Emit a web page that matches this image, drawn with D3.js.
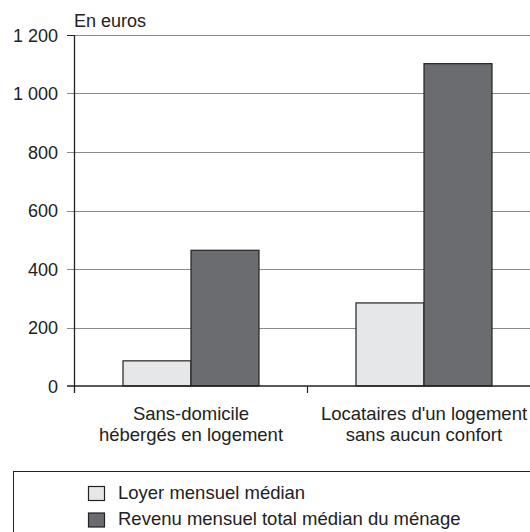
<!DOCTYPE html>
<html>
<head>
<meta charset="utf-8">
<script src="https://cdn.jsdelivr.net/npm/d3@7"></script>
<style>
  body { margin: 0; background: #fff; }
  svg { display: block; font-family: "Liberation Sans", Arial, sans-serif; }
</style>
</head>
<body>
<svg id="chart" width="530" height="532"></svg>
<script>
const categories = [
  ["Sans-domicile", "hébergés en logement"],
  ["Locataires d'un logement", "sans aucun confort"]
];
const seriesNames = ["Loyer mensuel médian", "Revenu mensuel total médian du ménage"];
const loyer = [86, 284];
const revenu = [464, 1102];
const yTicks = [0, 200, 400, 600, 800, 1000, 1200];
const colors = ["#e6e7e8", "#6b6c6f"];

const svg = d3.select("#chart");
const mLeft = 74.5, mRight = 540.5, mTop = 35, mBottom = 386;
const fs = 18, fsL = 18.5;

const x0 = d3.scaleBand().domain(d3.range(categories.length)).range([mLeft, mRight]);
const x1 = d3.scaleBand().domain([0, 1]).range([0, 136]);
const y = d3.scaleLinear().domain([0, 1200]).range([mBottom, mTop]);

const fmt = v => d3.format(",")(v).replace(",", " ");

// gridlines
svg.append("g")
  .selectAll("line")
  .data(yTicks.filter(d => d > 0))
  .join("line")
  .attr("x1", 67).attr("x2", 530)
  .attr("y1", d => Math.round(y(d)) + 0.5).attr("y2", d => Math.round(y(d)) + 0.5)
  .attr("stroke", "#8a8a8a").attr("stroke-width", 1);

// tick labels
svg.append("g")
  .selectAll("text")
  .data(yTicks)
  .join("text")
  .attr("x", 58).attr("y", d => y(d) + 6.5)
  .attr("text-anchor", "end")
  .attr("font-size", fs).attr("fill", "#222")
  .text(fmt);

// bars
const series = [loyer, revenu];
const g = svg.append("g");
categories.forEach((c, i) => {
  const gx = x0(i) + (x0.bandwidth() - 136) / 2;
  series.forEach((s, j) => {
    g.append("rect")
      .attr("x", gx + x1(j))
      .attr("y", y(s[i]))
      .attr("width", x1.bandwidth())
      .attr("height", y(0) - y(s[i]))
      .attr("fill", colors[j])
      .attr("stroke", "#222").attr("stroke-width", 1.2);
  });
});

// axes
svg.append("line")
  .attr("x1", mLeft).attr("x2", mLeft).attr("y1", mTop).attr("y2", mBottom + 7)
  .attr("stroke", "#222").attr("stroke-width", 1.3);
svg.append("line")
  .attr("x1", 67).attr("x2", 530).attr("y1", mBottom).attr("y2", mBottom)
  .attr("stroke", "#222").attr("stroke-width", 1.5);
svg.append("line")
  .attr("x1", x0(1)).attr("x2", x0(1)).attr("y1", mBottom).attr("y2", mBottom + 7)
  .attr("stroke", "#222").attr("stroke-width", 1.2);
svg.append("line")
  .attr("x1", 67).attr("x2", mLeft).attr("y1", mTop + 0.5).attr("y2", mTop + 0.5)
  .attr("stroke", "#222");

svg.append("text")
  .attr("x", 74).attr("y", 27)
  .attr("font-size", fs).attr("fill", "#222")
  .text("En euros");

// category labels
categories.forEach((c, i) => {
  const t = svg.append("text")
    .attr("text-anchor", "middle")
    .attr("font-size", fsL).attr("fill", "#222");
  c.forEach((line, k) => {
    t.append("tspan")
      .attr("x", x0(i) + x0.bandwidth() / 2)
      .attr("y", 420 + k * 21)
      .text(line);
  });
});

// legend
svg.append("rect")
  .attr("x", 13.5).attr("y", 471.5).attr("width", 530).attr("height", 80)
  .attr("fill", "none").attr("stroke", "#222").attr("stroke-width", 1);
seriesNames.forEach((n, j) => {
  svg.append("rect")
    .attr("x", 88.5).attr("y", 486.5 + j * 26.5).attr("width", 16).attr("height", 14)
    .attr("fill", colors[j]).attr("stroke", "#222").attr("stroke-width", 1.2);
  svg.append("text")
    .attr("x", 118).attr("y", 498.5 + j * 26.5)
    .attr("font-size", fsL).attr("fill", "#222")
    .text(n);
});
</script>
</body>
</html>
